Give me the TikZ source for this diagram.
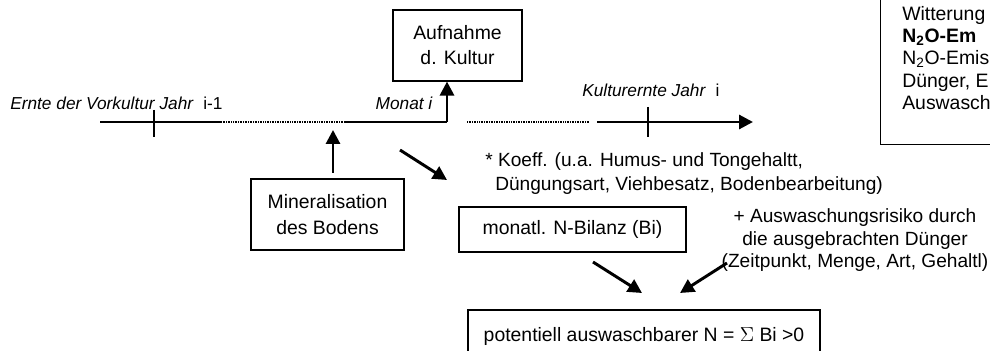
\documentclass[tikz,border=0pt]{standalone}
\usepackage{fontspec}
\setmainfont{Liberation Sans}
\usepackage{amsmath}
\usepackage{tikz}
\tikzset{>=stealth}
\usetikzlibrary{arrows.meta, positioning}
\tikzset{
  box/.style={draw, line width=0.8pt, inner sep=0pt, align=center},
  txt/.style={inner sep=0pt, align=center},
  tline/.style={line width=1.1pt},
  dotline/.style={line width=1.1pt, dash pattern=on 0.7pt off 0.5pt},
  bigarrow/.style={->, line width=2.1pt},
  small/.style={font=\fontsize{12.3}{15}\selectfont}
}

\begin{document}
\begin{tikzpicture}[>={Stealth[length=3.5mm,width=3.5mm,inset=0pt]},
    font=\fontsize{13.8}{17.8}\selectfont]
        \useasboundingbox (0,0) rectangle (24.75,8.75);
        % time axis
        \coordinate (a0) at (2.5,5.7);
        \coordinate (a1) at (5.525,5.7);
        \coordinate (a2) at (8.625,5.7);
        \coordinate (a3) at (11.175,5.7);
        \coordinate (b0) at (11.675,5.7);
        \coordinate (b1) at (14.75,5.7);
        \coordinate (b2) at (14.925,5.7);
        \coordinate (b3) at (18.825,5.7);
        \draw[tline] (a0) -- (a1);
        \draw[dotline] (a1) -- (a2);
        \draw[tline] (a2) -- (a3);
        \draw[dotline] (b0) -- (b1);
        \draw[bigarrow] (b2) -- (b3);
        \draw[line width=0.8pt] (3.85,6.0) -- (3.85,5.325);
        \draw[line width=0.8pt] (16.2,6.075) -- (16.2,5.325);
        \node[txt, small, anchor=west] (vork) at (0.25,6.175) {\textit{Ernte der Vorkultur Jahr}\ \ i-1};
        \node[txt, small, anchor=east] (monat) at (10.825,6.175) {\textit{Monat i}};
        \node[txt, small, anchor=west] (ernte) at (14.55,6.5) {\textit{Kulturernte Jahr}\ \ i};
        % boxes
        \node[box, minimum width=3.225cm, minimum height=1.775cm] (aufn) at (11.4375,7.6125) {Aufnahme\\d. Kultur};
        \node[box, minimum width=3.825cm, minimum height=1.775cm, font=\fontsize{13.8}{18.5}\selectfont] (mineral) at (8.1875,3.3875) {Mineralisation\\des Bodens};
        \node[box, minimum width=5.675cm, minimum height=1.125cm] (bilanz) at (14.3125,3.0125) {monatl. N-Bilanz (Bi)};
        \node[box, minimum width=8.8cm, minimum height=1.3cm] (summe) at (16.1,0.35) {potentiell auswaschbarer N = $\Sigma$ Bi >0};
        \node[box, anchor=south west, minimum width=3.5cm, minimum height=4cm] (wbox) at (22.0,5.125) {};
        \node[txt, anchor=west, align=left, font=\fontsize{13.8}{15.8}\selectfont] (wtext) at (22.55,7.3)
            {Witterung\\\textbf{N\textsubscript{2}O-Em}\\N\textsubscript{2}O-Emis\\Dünger, E\\Auswasch};
        % notes
        \node[txt, anchor=west, align=left, font=\fontsize{13.6}{17.1}\selectfont] (koeff) at (12.125,4.4)
            {* Koeff. (u.a. Humus- und Tongehaltt,\\\hspace{0.25cm}Düngungsart, Viehbesatz, Bodenbearbeitung)};
        \node[txt, font=\fontsize{13.6}{16}\selectfont] (risiko) at (21.375,2.7375)
            {+ Auswaschungsrisiko durch\\die ausgebrachten Dünger\\(Zeitpunkt, Menge, Art, Gehaltl)};
        % arrows
        \coordinate (mtip) at (8.325,5.5);
        \coordinate (d1) at (10.0,5.0);
        \coordinate (d2) at (11.175,4.25);
        \coordinate (e1) at (14.825,2.2);
        \coordinate (e2) at (16.05,1.425);
        \coordinate (f1) at (18.175,2.175);
        \coordinate (f2) at (17.0,1.425);
        \draw[bigarrow] (a3) -- (a3 |- aufn.south);
        \draw[bigarrow] ([yshift=4.2pt]mtip |- mineral.north) -- (mtip);
        \draw[bigarrow] (d1) -- (d2);
        \draw[bigarrow] (e1) -- (e2);
        \draw[bigarrow] (f1) -- (f2);
    \end{tikzpicture}
\end{document}
